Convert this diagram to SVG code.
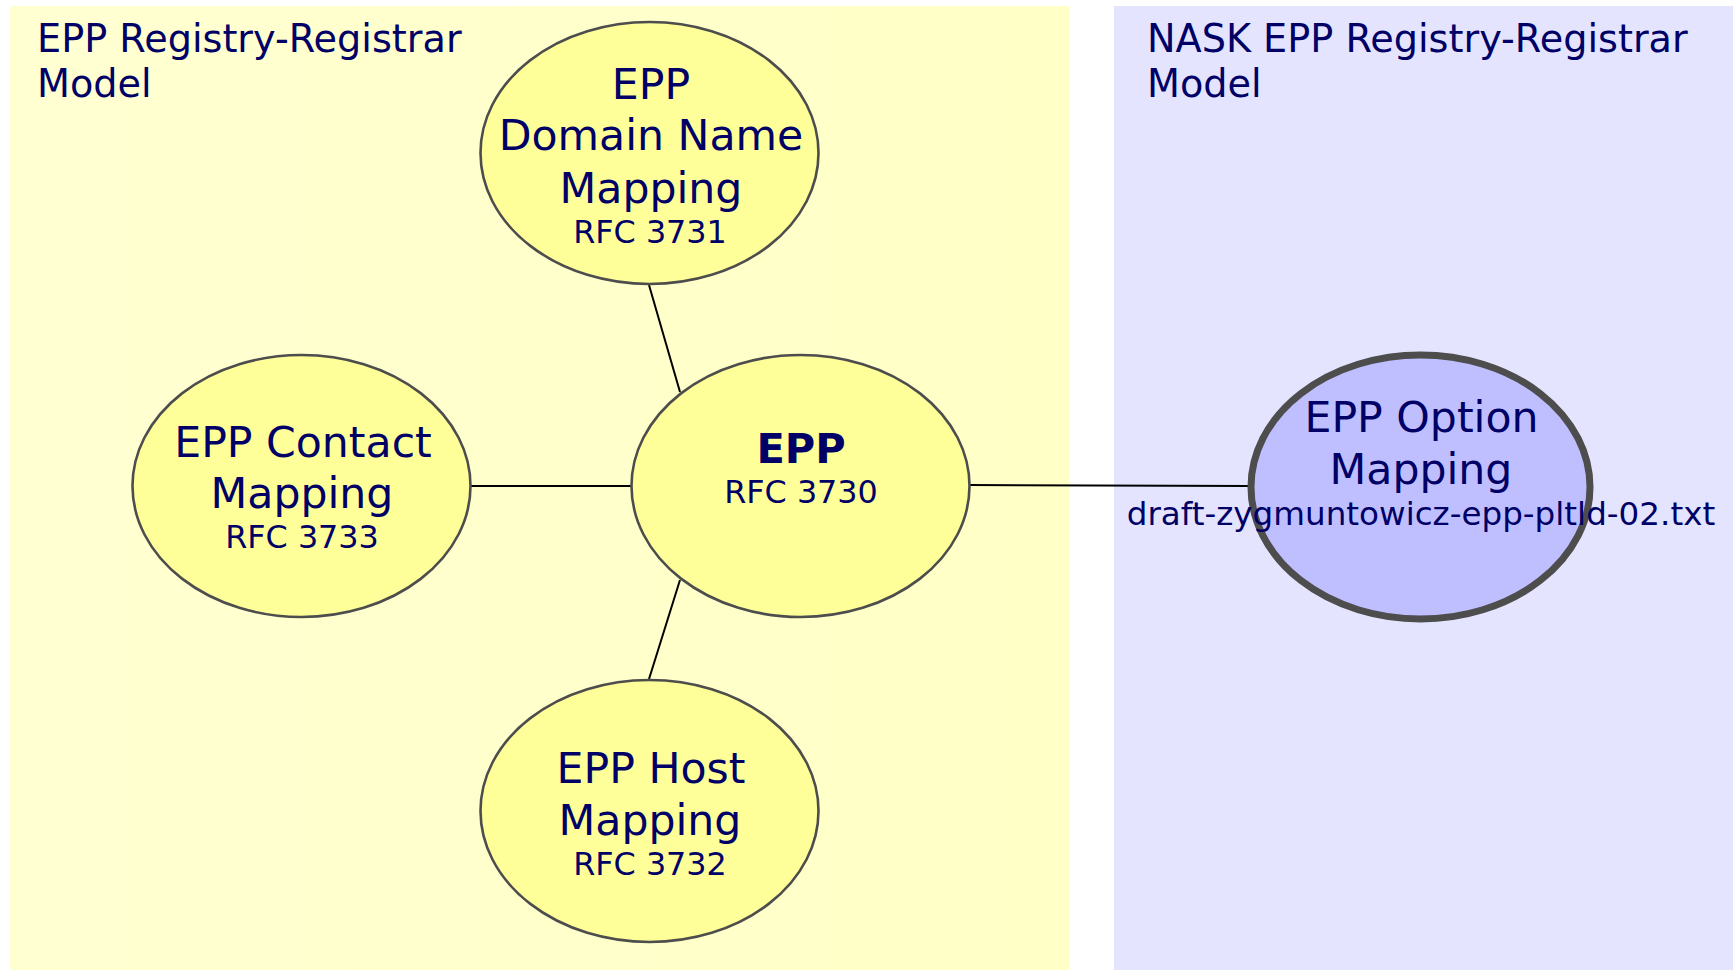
<svg xmlns="http://www.w3.org/2000/svg" width="1736" height="970" viewBox="0 0 1736 970">
<defs>
<linearGradient id="yg" x1="0" y1="0" x2="1" y2="0">
<stop offset="0" stop-color="#FFFFD2"/>
<stop offset="1" stop-color="#FFFFC6"/>
</linearGradient>
</defs>
<style>
text{font-family:"DejaVu Sans","Verdana",sans-serif;fill:#000066}
.t{font-size:38.2px}
.m{font-size:42.6px;text-anchor:middle}
.b{font-size:41.5px;font-weight:bold;text-anchor:middle}
.s{font-size:31.8px;text-anchor:middle}
.d{font-size:32.6px;text-anchor:middle}
.y{fill:#FFFF99;stroke:#4D4D4D;stroke-width:2.6}
.o{fill:#BFBFFF;stroke:#4D4D4D;stroke-width:7}
.c{stroke:#000;stroke-width:2;fill:none}
</style>
<g id="regions">
<rect x="10" y="6" width="1059" height="964" fill="url(#yg)"/>
<rect x="1114" y="6" width="619" height="964" fill="#E4E4FE"/>
<text class="t" x="37" y="51.5">EPP Registry-Registrar</text>
<text class="t" x="37" y="96.5">Model</text>
<text class="t" x="1147" y="51.5">NASK EPP Registry-Registrar</text>
<text class="t" x="1147" y="96.5">Model</text>
</g>
<g id="connectors">
<line class="c" x1="649" y1="285" x2="680" y2="392"/>
<line class="c" x1="471" y1="486" x2="631" y2="486"/>
<line class="c" x1="680" y1="580" x2="649" y2="679"/>
<line class="c" x1="970" y1="485" x2="1250" y2="486"/>
</g>
<g id="domain">
<ellipse class="y" cx="649.5" cy="153" rx="169" ry="131"/>
<text class="m" x="651" y="99">EPP</text>
<text class="m" x="651" y="150">Domain Name</text>
<text class="m" x="651" y="203">Mapping</text>
<text class="s" x="650" y="243">RFC 3731</text>
</g>
<g id="contact">
<ellipse class="y" cx="301.5" cy="486" rx="169" ry="131"/>
<text class="m" x="303" y="457">EPP Contact</text>
<text class="m" x="302" y="508">Mapping</text>
<text class="s" x="302" y="548">RFC 3733</text>
</g>
<g id="epp">
<ellipse class="y" cx="800.5" cy="486" rx="169" ry="131"/>
<text class="b" x="801" y="463">EPP</text>
<text class="s" x="801" y="503">RFC 3730</text>
</g>
<g id="host">
<ellipse class="y" cx="649.5" cy="811" rx="169" ry="131"/>
<text class="m" x="651" y="783">EPP Host</text>
<text class="m" x="650" y="835">Mapping</text>
<text class="s" x="650" y="875">RFC 3732</text>
</g>
<g id="option">
<ellipse class="o" cx="1420.5" cy="487" rx="169.5" ry="132"/>
<text class="m" x="1421.5" y="432">EPP Option</text>
<text class="m" x="1421" y="484">Mapping</text>
<text class="d" x="1421" y="525">draft-zygmuntowicz-epp-pltld-02.txt</text>
</g>
</svg>
